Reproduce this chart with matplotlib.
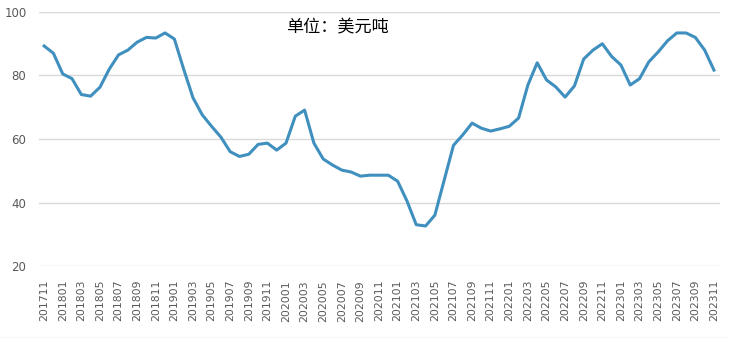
import matplotlib
matplotlib.use("Agg")
import matplotlib.pyplot as plt

months = []
y, m = 2017, 11
for _ in range(73):
    months.append(f"{y}{m:02d}")
    m += 1
    if m > 12:
        m = 1
        y += 1

values = [89.3, 87.0, 80.5, 79.0, 74.0, 73.5, 76.3, 82.0, 86.5, 88.0,
          90.5, 92.0, 91.8, 93.4, 91.5, 82.0, 73.0, 67.6, 64.0, 60.6,
          56.0, 54.5, 55.2, 58.3, 58.7, 56.5, 58.7, 67.2, 69.1, 58.7,
          53.7, 51.8, 50.2, 49.6, 48.3, 48.6, 48.6, 48.6, 46.7, 40.5,
          33.0, 32.6, 36.0, 47.0, 58.0, 61.3, 65.0, 63.4, 62.5, 63.2,
          64.0, 66.6, 77.0, 84.0, 78.6, 76.4, 73.2, 76.7, 85.2, 88.0,
          90.0, 86.0, 83.3, 77.0, 79.0, 84.3, 87.4, 90.9, 93.4, 93.4,
          92.0, 88.0, 81.7]

y_ticks = [20, 40, 60, 80, 100]
title_text = "单位：美元吨"

plt.rcParams['font.family'] = ['DejaVu Sans']
fig = plt.figure(figsize=(7.29, 3.38), dpi=100)
ax = fig.add_axes([39/729, 1-266/338, (720-39)/729, (266-12)/338])

x = list(range(len(values)))
ax.plot(x, values, color='#3f8fbf', lw=2.2, solid_joinstyle='round')
ax.set_xlim(-0.55, len(values) - 1 + 0.65)
ax.set_ylim(20, 100)
ax.set_yticks(y_ticks)
ax.set_yticklabels([str(v) for v in y_ticks])
ax.set_xticks(x[::2])
ax.set_xticklabels(months[::2], rotation=90)
ax.tick_params(axis='y', length=0, labelsize=8.5, colors='#595959', pad=9)
ax.tick_params(axis='x', length=0, labelsize=7.8, colors='#595959', pad=10)
ax.grid(axis='y', color='#d9d9d9', lw=1)
ax.set_axisbelow(True)
for s in ax.spines.values():
    s.set_visible(False)

fig.text(337/729, 1-27/338, title_text, ha='center', va='center',
         fontsize=12.3, family=['Noto Sans CJK SC', 'DejaVu Sans'], color='black')

fig.add_artist(plt.Line2D([0, 1], [0.5/338, 0.5/338], color='#d9d9d9', lw=1))

fig.savefig('out.png', dpi=100)
